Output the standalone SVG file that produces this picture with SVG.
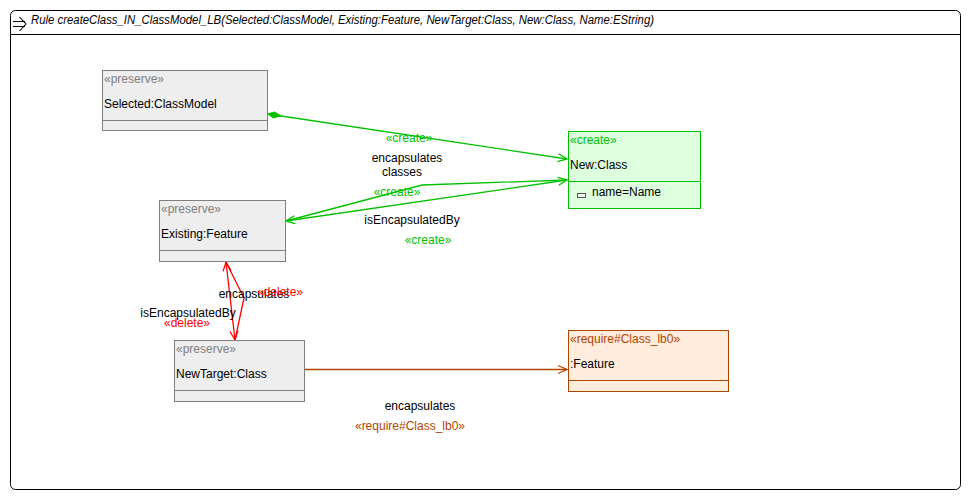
<svg xmlns="http://www.w3.org/2000/svg" width="971" height="500" viewBox="0 0 971 500">
<style>
text{font-family:"Liberation Sans",Arial,sans-serif;font-size:12px;fill:#000}
.st{fill:#808080}
.gr{fill:#00c000}
.rd{fill:#ff0000}
.br{fill:#b04500}
.pres{fill:#eeeeee;stroke:#808080;stroke-width:1}
.crt{fill:#ddffdd;stroke:#00c000;stroke-width:1}
.req{fill:#ffecdc;stroke:#b04500;stroke-width:1}
.eg{stroke:#00c000;fill:none;stroke-width:1.3}
.er{stroke:#ff0000;fill:none;stroke-width:1.3}
.eb{stroke:#b04500;fill:none;stroke-width:1.3}
</style>
<defs>
<marker id="ag" markerWidth="12" markerHeight="12" refX="10" refY="6" orient="auto-start-reverse" markerUnits="userSpaceOnUse"><path d="M1,2 L10,6 L1,10" fill="none" stroke="#00c000" stroke-width="1.3"/></marker>
<marker id="ar" markerWidth="12" markerHeight="12" refX="10" refY="6" orient="auto-start-reverse" markerUnits="userSpaceOnUse"><path d="M1,2 L10,6 L1,10" fill="none" stroke="#ff0000" stroke-width="1.3"/></marker>
<marker id="ab" markerWidth="12" markerHeight="12" refX="10" refY="6" orient="auto" markerUnits="userSpaceOnUse"><path d="M1,2 L10,6 L1,10" fill="none" stroke="#b04500" stroke-width="1.3"/></marker>
<marker id="dg" markerWidth="16" markerHeight="10" refX="1" refY="5" orient="auto" markerUnits="userSpaceOnUse"><path d="M1,5 L7,2 L14,5 L7,8 Z" fill="#00c000" stroke="#00c000"/></marker>
</defs>
<rect x="0" y="0" width="971" height="500" fill="#fff"/>
<g id="rule">
<rect x="10.5" y="10.5" width="950" height="479" rx="5" fill="#fff" stroke="#000"/>
<line x1="10.5" y1="34.5" x2="960.5" y2="34.5" stroke="#000"/>
<path d="M13,21.5 H25 M13,26.5 H25 M19.5,17 L26,24 L19.5,31" fill="none" stroke="#000" stroke-width="1.1"/>
<text x="31" y="24" font-style="italic" textLength="623" lengthAdjust="spacingAndGlyphs">Rule createClass_IN_ClassModel_LB(Selected:ClassModel, Existing:Feature, NewTarget:Class, New:Class, Name:EString)</text>
</g>
<g id="connectors">
<path class="eg" d="M268,114 L567,159" marker-start="url(#dg)" marker-end="url(#ag)"/>
<path class="eg" d="M286,221 L567,180" marker-start="url(#ag)" marker-end="url(#ag)"/>
<path class="eg" d="M286,221 L422,185 L567,180"/>
<path class="er" d="M226,262 L235,340" marker-start="url(#ar)" marker-end="url(#ar)"/>
<path class="er" d="M226,262 L244,298 L235,340"/>
<path class="eb" d="M305,369.5 L567,369.5" marker-end="url(#ab)"/>
<text x="409" y="142" class="gr" text-anchor="middle">«create»</text>
<text x="407" y="162" text-anchor="middle">encapsulates</text>
<text x="402" y="176" text-anchor="middle">classes</text>
<text x="397" y="196" class="gr" text-anchor="middle">«create»</text>
<text x="412" y="224" text-anchor="middle">isEncapsulatedBy</text>
<text x="428" y="244" class="gr" text-anchor="middle">«create»</text>
<text x="254" y="298" text-anchor="middle">encapsulates</text>
<text x="280" y="296" class="rd" text-anchor="middle">«delete»</text>
<text x="188" y="317" text-anchor="middle">isEncapsulatedBy</text>
<text x="187" y="327" class="rd" text-anchor="middle">«delete»</text>
<text x="420" y="410" text-anchor="middle">encapsulates</text>
<text x="410" y="430" class="br" text-anchor="middle">«require#Class_lb0»</text>
</g>
<g id="node-selected">
<rect class="pres" x="102.5" y="70.5" width="165" height="60"/>
<line x1="102.5" y1="120.5" x2="267.5" y2="120.5" stroke="#808080"/>
<text x="104" y="83" class="st">«preserve»</text>
<text x="104" y="108">Selected:ClassModel</text>
</g>
<g id="node-existing">
<rect class="pres" x="159.5" y="200.5" width="126" height="61"/>
<line x1="159.5" y1="250.5" x2="285.5" y2="250.5" stroke="#808080"/>
<text x="161" y="213" class="st">«preserve»</text>
<text x="161" y="238">Existing:Feature</text>
</g>
<g id="node-newtarget">
<rect class="pres" x="174.5" y="340.5" width="130" height="61"/>
<line x1="174.5" y1="390.5" x2="304.5" y2="390.5" stroke="#808080"/>
<text x="176" y="353" class="st">«preserve»</text>
<text x="176" y="378">NewTarget:Class</text>
</g>
<g id="node-new">
<rect class="crt" x="568.5" y="131.5" width="132" height="77"/>
<line x1="568.5" y1="181.5" x2="700.5" y2="181.5" stroke="#00c000"/>
<text x="570" y="144" class="gr">«create»</text>
<text x="570" y="169">New:Class</text>
<rect x="577.5" y="193.5" width="8" height="4" fill="#f4f4f4" stroke="#555"/>
<text x="592" y="196">name=Name</text>
</g>
<g id="node-feature">
<rect class="req" x="568.5" y="330.5" width="160" height="61"/>
<line x1="568.5" y1="380.5" x2="728.5" y2="380.5" stroke="#b04500"/>
<text x="570" y="343" class="br">«require#Class_lb0»</text>
<text x="570" y="368">:Feature</text>
</g>
</svg>
